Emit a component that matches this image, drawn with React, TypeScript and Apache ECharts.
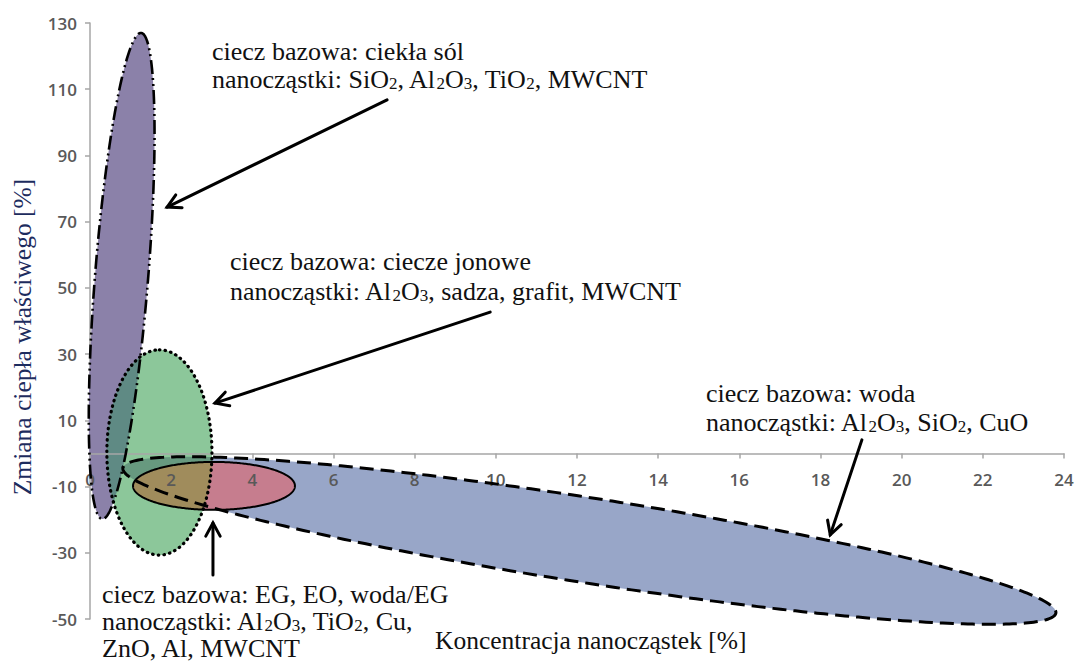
import React, { useEffect, useRef } from "react";
import * as echarts from "echarts";

// ---- Axes ----
const xMin = 0;
const xMax = 24;
const xStep = 2;
const yMin = -50;
const yMax = 130;
const yStep = 20;

// ---- Regions (ellipses): major-axis end points in data units + minor/major ratio ----
const regionNames = ["woda", "ciekła sól", "ciecze jonowe", "EG, EO, woda/EG"];
const majorStartX = [0.81, 0.3, 1.71, 1.06];
const majorStartY = [-4.4, -19.8, -30.7, -9.8];
const majorEndX = [23.8, 1.26, 1.71, 5.05];
const majorEndY = [-48.2, 127.0, 31.3, -9.8];
const minorRatio = [0.09, 0.109, 0.512, 0.296];

// ---- Arrows: start -> tip, in data units ----
const arrowStartX = [7.32, 9.86, 19.02, 3.03];
const arrowStartY = [106.8, 42.7, 4.1, -36.7];
const arrowTipX = [1.9, 3.08, 18.24, 3.03];
const arrowTipY = [74.4, 15.2, -24.6, -21.0];

// ---- Texts ----
const annotationLines = [
  ["ciecz bazowa: ciekła sól", "nanocząstki: SiO_2, Al_2O_3, TiO_2, MWCNT"],
  ["ciecz bazowa: ciecze jonowe", "nanocząstki: Al_2O_3, sadza, grafit, MWCNT"],
  ["ciecz bazowa: woda", "nanocząstki: Al_2O_3, SiO_2, CuO"],
  ["ciecz bazowa: EG, EO, woda/EG", "nanocząstki: Al_2O_3, TiO_2, Cu,", "ZnO, Al, MWCNT"],
];
const xTitle = "Koncentracja nanocząstek [%]";
const yTitle = "Zmiana ciepła właściwego [%]";

// ---- Layout / styles ----
const GRID_TOP = 23;
const GRID_BOTTOM = 44;
const CHART_H = 663;
const annotationPos = [
  [212, 51, 28],
  [230, 261, 30],
  [706, 393, 29],
  [102, 594, 27],
];
const fillColors = ["#98a6c8", "#8b81a9", "#8cc79a", "#c67d8e"];
const strokeWidths = [3, 2.6, 3.2, 2];
const strokeDashes: (number[] | null)[] = [[14, 7], [14, 4, 2, 4, 2, 4], [0.5, 5.2], null];
const overlapStyles = [
  { a: 2, b: 0, color: "#67997f" },
  { a: 2, b: 1, color: "#5f8a84" },
  { a: 3, b: 2, color: "#a08c5c" },
];
const SERIF = "'Liberation Serif', 'Times New Roman', serif";
const SANS = "'Open Sans', 'DejaVu Sans', sans-serif";

function ellipsePoints(api: any, v: number[], n = 180): number[][] {
  const p1 = api.coord([v[0], v[1]]);
  const p2 = api.coord([v[2], v[3]]);
  const cx = (p1[0] + p2[0]) / 2;
  const cy = (p1[1] + p2[1]) / 2;
  const dx = (p2[0] - p1[0]) / 2;
  const dy = (p2[1] - p1[1]) / 2;
  const a = Math.hypot(dx, dy);
  const ux = dx / a;
  const uy = dy / a;
  const vx = -uy;
  const vy = ux;
  const b = v[4] * a;
  const pts: number[][] = [];
  for (let k = 0; k < n; k++) {
    const t = (2 * Math.PI * k) / n;
    const c = Math.cos(t);
    const s = Math.sin(t);
    pts.push([cx + a * c * ux + b * s * vx, cy + a * c * uy + b * s * vy]);
  }
  return pts;
}

function regionValue(i: number): number[] {
  return [majorStartX[i], majorStartY[i], majorEndX[i], majorEndY[i], minorRatio[i]];
}

function clipConvex(subject: number[][], clipper: number[][]): number[][] {
  let area = 0;
  for (let i = 0; i < clipper.length; i++) {
    const p = clipper[i];
    const q = clipper[(i + 1) % clipper.length];
    area += p[0] * q[1] - q[0] * p[1];
  }
  const sgn = area > 0 ? 1 : -1;
  let out = subject;
  for (let i = 0; i < clipper.length && out.length; i++) {
    const A = clipper[i];
    const B = clipper[(i + 1) % clipper.length];
    const side = (p: number[]) =>
      sgn * ((B[0] - A[0]) * (p[1] - A[1]) - (B[1] - A[1]) * (p[0] - A[0]));
    const input = out;
    out = [];
    for (let j = 0; j < input.length; j++) {
      const P = input[j];
      const Q = input[(j + 1) % input.length];
      const dP = side(P);
      const dQ = side(Q);
      if (dP >= 0) out.push(P);
      if ((dP >= 0) !== (dQ >= 0)) {
        const t = dP / (dP - dQ);
        out.push([P[0] + t * (Q[0] - P[0]), P[1] + t * (Q[1] - P[1])]);
      }
    }
  }
  return out;
}

function richLine(s: string): string {
  const parts = s.split(/_(\d)/);
  let r = "";
  parts.forEach((p, i) => {
    if (!p) return;
    r += i % 2 === 1 ? `{s|${p}}` : `{n|${p}}`;
  });
  return r;
}

const richStyles = {
  n: { fontSize: 26, fontFamily: SERIF, fill: "#111" },
  s: { fontSize: 17, fontFamily: SERIF, fill: "#111", verticalAlign: "bottom", lineHeight: 12 },
};

export default function App() {
  const ref = useRef<HTMLDivElement>(null);
  useEffect(() => {
    if (!ref.current) return;
    const chart = echarts.init(ref.current, undefined, { renderer: "svg" });

    const regionData = regionNames.map((name, i) => ({ name, value: regionValue(i) }));
    const arrowData = arrowStartX.map((_, i) => ({
      value: [arrowStartX[i], arrowStartY[i], arrowTipX[i], arrowTipY[i]],
    }));

    // place the x axis on y = 0 (moves line, ticks and labels together)
    const plotH = CHART_H - GRID_TOP - GRID_BOTTOM;
    const zeroFromBottom = (plotH * (0 - yMin)) / (yMax - yMin);

    const graphic: any[] = [];
    annotationLines.forEach((lines, bi) => {
      const [x, y, lh] = annotationPos[bi];
      lines.forEach((line, li) => {
        graphic.push({
          type: "text",
          x,
          y: y + li * lh,
          z: 100,
          style: {
            text: richLine(line),
            rich: richStyles,
            verticalAlign: "middle",
            align: "left",
          },
        });
      });
    });
    graphic.push({
      type: "text",
      x: 435,
      y: 640,
      z: 100,
      style: {
        text: xTitle,
        font: `25.5px ${SERIF}`,
        fill: "#111",
        verticalAlign: "middle",
        align: "left",
      },
    });
    graphic.push({
      type: "text",
      x: 22,
      y: 337,
      rotation: Math.PI / 2,
      z: 100,
      style: {
        text: yTitle,
        font: `25.5px ${SERIF}`,
        fill: "#1d2c5e",
        verticalAlign: "middle",
        align: "center",
      },
    });

    const option: any = {
      animation: false,
      backgroundColor: "#ffffff",
      grid: { left: 90, right: 14, top: GRID_TOP, bottom: GRID_BOTTOM, containLabel: false },
      xAxis: {
        type: "value",
        min: xMin,
        max: xMax,
        interval: xStep,
        position: "bottom",
        offset: -zeroFromBottom,
        z: 4,
        axisLine: { show: true, onZero: false, lineStyle: { color: "#a6a6a6", width: 1.5 } },
        axisTick: { show: true, length: 5, lineStyle: { color: "#a6a6a6", width: 1.5 } },
        axisLabel: {
          show: true,
          margin: 18,
          showMinLabel: true,
          showMaxLabel: true,
          color: "#595959",
          fontSize: 17,
          fontWeight: 600,
          fontFamily: SANS,
        },
        splitLine: { show: false },
      },
      yAxis: {
        type: "value",
        min: yMin,
        max: yMax,
        interval: yStep,
        axisLine: { show: true, onZero: false, lineStyle: { color: "#a6a6a6", width: 1.5 } },
        axisTick: { show: true, length: 5, lineStyle: { color: "#a6a6a6", width: 1.5 } },
        axisLabel: {
          margin: 13,
          color: "#595959",
          fontSize: 17,
          fontWeight: 600,
          fontFamily: SANS,
        },
        splitLine: { show: false },
      },
      graphic,
      series: [
        {
          type: "custom",
          name: "regions",
          z: 2,
          clip: false,
          silent: true,
          encode: { x: [0, 2], y: [1, 3] },
          data: regionData,
          renderItem: (params: any, api: any) => {
            const i = params.dataIndex;
            const v = [0, 1, 2, 3, 4].map((d) => api.value(d));
            const pts = ellipsePoints(api, v);
            const children: any[] = [
              { type: "polygon", shape: { points: pts }, style: { fill: fillColors[i], stroke: "none" } },
            ];
            overlapStyles
              .filter((o) => o.a === i)
              .forEach((o) => {
                const other = ellipsePoints(api, regionValue(o.b));
                const inter = clipConvex(pts, other);
                if (inter.length > 2) {
                  children.push({
                    type: "polygon",
                    shape: { points: inter },
                    style: { fill: o.color, stroke: "none" },
                  });
                }
              });
            return { type: "group", children };
          },
        },
        {
          type: "custom",
          name: "outlines",
          z: 5,
          clip: false,
          silent: true,
          encode: { x: [0, 2], y: [1, 3] },
          data: regionData,
          renderItem: (params: any, api: any) => {
            const i = params.dataIndex;
            const v = [0, 1, 2, 3, 4].map((d) => api.value(d));
            const pts = ellipsePoints(api, v, 360);
            return {
              type: "polygon",
              shape: { points: pts },
              style: {
                fill: "none",
                stroke: "#000",
                lineWidth: strokeWidths[i],
                lineDash: strokeDashes[i] || undefined,
                lineCap: i === 2 ? "round" : "butt",
              },
            };
          },
        },
        {
          type: "custom",
          name: "arrows",
          z: 6,
          clip: false,
          silent: true,
          encode: { x: [0, 2], y: [1, 3] },
          data: arrowData,
          renderItem: (params: any, api: any) => {
            const s = api.coord([api.value(0), api.value(1)]);
            const t = api.coord([api.value(2), api.value(3)]);
            const ang = Math.atan2(t[1] - s[1], t[0] - s[0]);
            const L = 15;
            const spread = 0.5;
            const h1 = [t[0] - L * Math.cos(ang - spread), t[1] - L * Math.sin(ang - spread)];
            const h2 = [t[0] - L * Math.cos(ang + spread), t[1] - L * Math.sin(ang + spread)];
            const st = { stroke: "#000", lineWidth: 3, fill: "none", lineCap: "round", lineJoin: "miter" };
            return {
              type: "group",
              children: [
                { type: "line", shape: { x1: s[0], y1: s[1], x2: t[0], y2: t[1] }, style: st },
                { type: "polyline", shape: { points: [h1, t, h2] }, style: st },
              ],
            };
          },
        },
      ],
    };
    chart.setOption(option);
    return () => chart.dispose();
  }, []);
  return (
    <div
      ref={ref}
      style={{ position: "fixed", left: 0, top: 0, width: 1078, height: 663, background: "#fff" }}
    />
  );
}
